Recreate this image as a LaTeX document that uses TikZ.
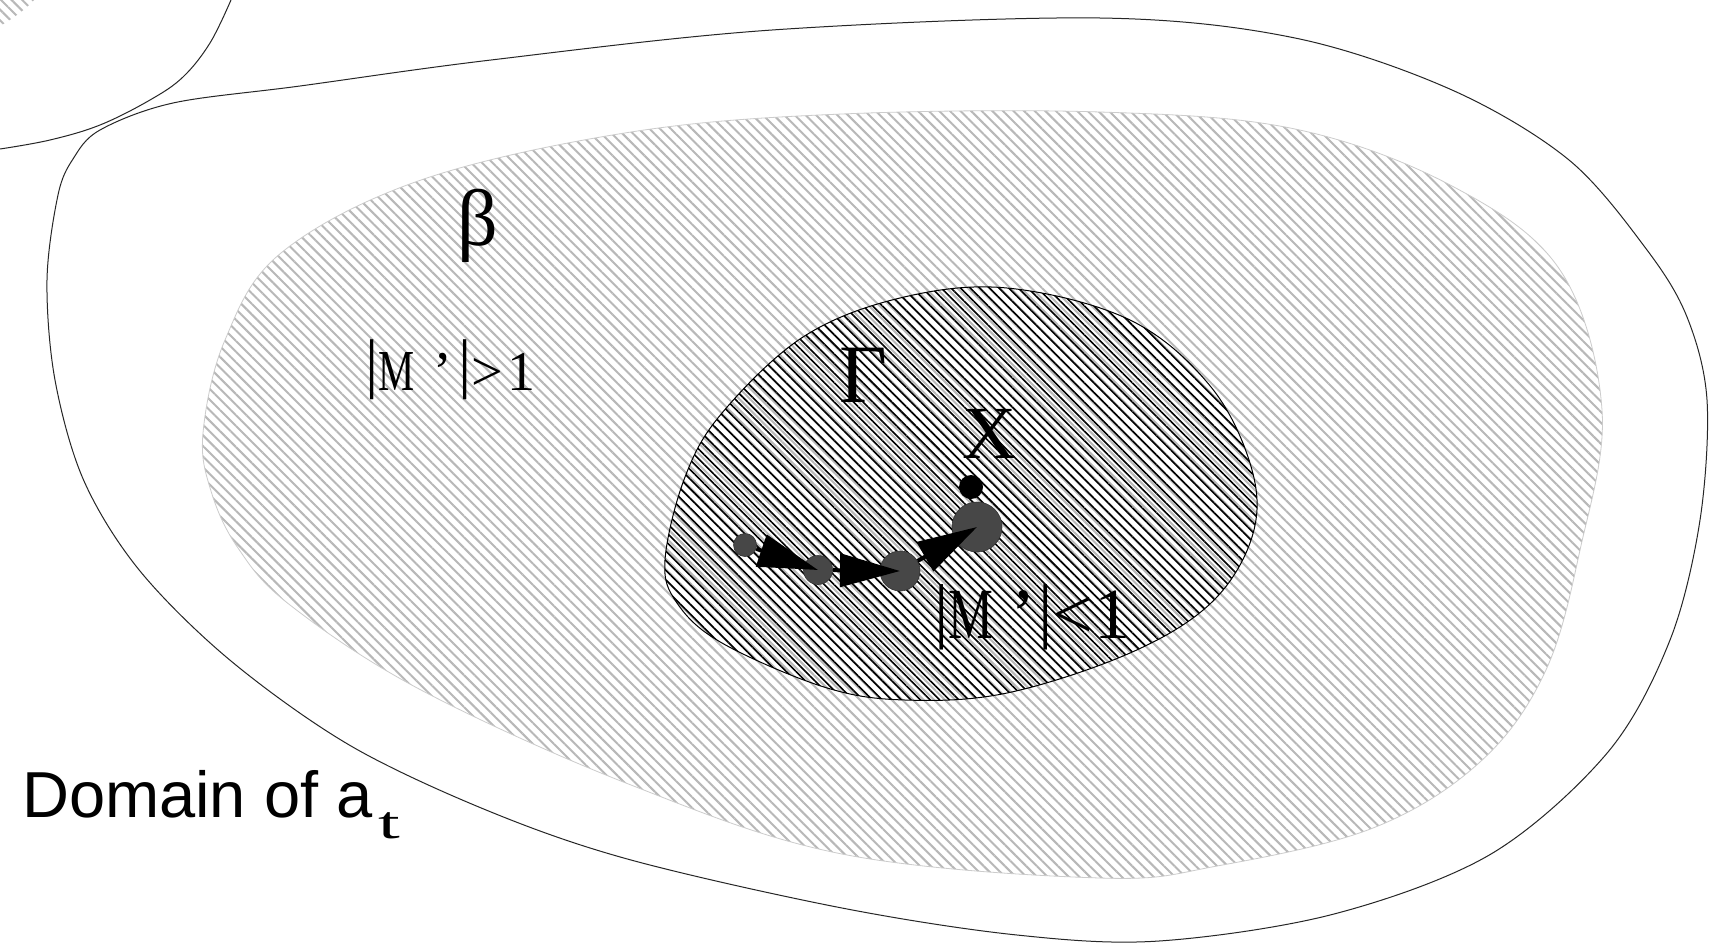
\documentclass[tikz,border=0pt]{standalone}
\usepackage{fontspec}
\setmainfont{Liberation Serif}
\newfontfamily\sansf{Liberation Sans}
\newfontfamily\narrowserif[FakeStretch=0.7]{Liberation Serif}
\newfontfamily\wideserif[FakeStretch=1.7]{Liberation Serif}
\usetikzlibrary{patterns.meta,arrows.meta}
\newcommand\putat[2]{\rlap{\hspace*{#1}#2}}
\begin{document}
\begin{tikzpicture}[x=1pt,y=-1pt,
  outerline/.style={draw=black!85,line width=1pt},
  lighthatch/.style={pattern={Lines[angle=-45,distance=7.5pt,line width=2pt]},pattern color=black!28},
  betazone/.style={draw=black!20,line width=0.8pt,lighthatch},
  gammazone/.style={draw=black,line width=1pt,pattern={Lines[angle=-45,distance=6.8pt,line width=1.6pt]},pattern color=black},
  ball/.style={circle,inner sep=0pt,fill=black!72,draw=black!80,line width=0.6pt},
  arr/.style={line width=4pt,-{Triangle[length=60pt,width=33pt]}},
  lbl/.style={inner sep=0pt,anchor=base west},
  sym/.style={inner sep=0pt,anchor=base}]
\useasboundingbox (0,0) rectangle (1712,943);
\fill[white] (0,0) rectangle (1712,943);
% corner region (top-left)
\fill[lighthatch]
  (0,0) -- (34,0) .. controls (25,10) and (12,19) .. (0,26) -- cycle;
\draw[outerline] plot[smooth,tension=0.6] coordinates {(0,149) (50,140) (100,125) (150,100) (183,77) (210,43) (231,0)};
% outer domain
\draw[outerline] plot[smooth cycle,tension=0.55] coordinates {
 (47,280) (58,195) (73,159) (100,130) (173,103) (300,86) (491,60) (772,30) (1100,18)
 (1295,38) (1452,90) (1569,160) (1647,250) (1687,317) (1707,400) (1700,520) (1670,640)
 (1608,752) (1491,854) (1334,914) (1159,941) (1017,935) (842,908) (631,860) (491,812)
 (351,746) (231,661) (140,571) (84,481) (55,380)};
% beta region
\path[betazone] plot[smooth cycle,tension=0.6] coordinates {
 (203,433) (211,491) (238,548) (290,605) (421,690) (631,785) (842,854) (1100,878) (1217,866)
 (1373,828) (1480,762) (1545,672) (1580,550) (1602,410) (1560,270) (1452,186) (1295,129)
 (1100,112) (842,114) (631,132) (421,180) (281,253) (225,340)};
% gamma region
\path[gammazone] plot[smooth cycle,tension=0.6] coordinates {
 (1007,288) (1130,320) (1211,387) (1252,470) (1252,537) (1211,603) (1130,653) (1007,693)
 (905,700) (824,687) (722,643) (677,603) (665,560) (685,477) (722,413) (803,337) (900,298)};
% points
\node[ball,minimum size=23pt] (c4) at (745,545) {};
\node[ball,minimum size=29pt] (c3) at (818,570) {};
\node[ball,minimum size=40pt] (c2) at (900,571) {};
\node[ball,minimum size=50pt] (c1) at (977,527) {};
\node[circle,inner sep=0pt,minimum size=24pt,fill=black] (xdot) at (971,487) {};
\draw[arr] (c4) -- (c3.center);
\draw[arr] (c3) -- (c2.center);
\draw[arr] (c2) -- (c1.center);
% labels
\node[sym,font=\fontsize{80pt}{80pt}\selectfont] (beta) at (478,245) {β};
\node[sym,font=\fontsize{83pt}{83pt}\selectfont] (gam) at (863,402) {Γ};
\node[sym,font=\fontsize{75pt}{75pt}\selectfont] (xlab) at (990,458) {X};
\node[lbl,font=\fontsize{56pt}{56pt}\selectfont] (mgt) at (372,390)
 {\putat{-7pt}{\raisebox{5pt}{\fontsize{66pt}{66pt}\selectfont|}}\putat{6.5pt}{\narrowserif\fontsize{58pt}{58pt}\selectfont M}\putat{61.5pt}{’}\putat{86pt}{\raisebox{5pt}{\fontsize{66pt}{66pt}\selectfont|}}\putat{99.5pt}{>}\putat{135pt}{1}\hspace*{165pt}};
\node[lbl,font=\fontsize{72pt}{72pt}\selectfont] (mlt) at (940,638)
 {\putat{-6pt}{\raisebox{4pt}{|}}\putat{8.6pt}{\narrowserif M}\putat{71pt}{’}\putat{98pt}{\raisebox{4pt}{|}}\putat{112.6pt}{<}\putat{154pt}{1}\hspace*{185pt}};
\node[lbl,font=\sansf\fontsize{65pt}{65pt}\selectfont] (dom) at (22,817) {Domain of a};
\node[lbl,font=\wideserif\fontsize{46pt}{46pt}\selectfont] (sub) at (378,838) {t};
\end{tikzpicture}
\end{document}
